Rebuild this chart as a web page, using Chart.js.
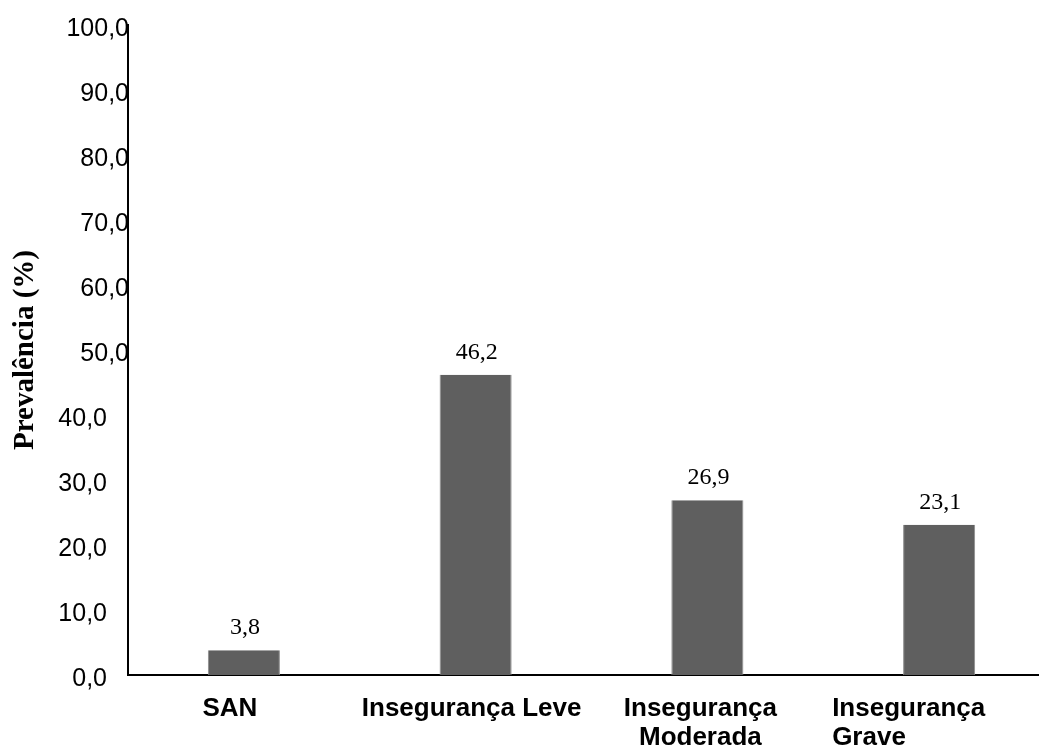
<!DOCTYPE html>
<html lang="pt">
<head>
<meta charset="utf-8">
<title>Prevalência de Insegurança Alimentar</title>
<script src="https://cdn.jsdelivr.net/npm/chart.js@4.4.1/dist/chart.umd.min.js"></script>
<style>
  html, body { margin: 0; padding: 0; background: #ffffff; overflow: hidden; }
  #wrap { width: 1039px; height: 748px; overflow: hidden; position: relative; }
  canvas { display: block; }
</style>
</head>
<body>
<div id="wrap"><canvas id="chart" width="1056" height="748"></canvas></div>
<script>
// Categories (one array per category: one entry per text line)
const categories = [
  ['SAN'],
  ['Insegurança Leve'],
  ['Insegurança', 'Moderada'],
  ['Insegurança', 'Grave']
];
// Prevalence (%) per category
const prevalence = [3.8, 46.2, 26.9, 23.1];
// Y axis range and step
const yMin = 0;
const yMax = 100;
const yStep = 10;

const fmt = v => Number(v).toFixed(1).replace('.', ',');

// Value labels above each bar
const valueLabels = {
  id: 'valueLabels',
  afterDatasetsDraw(chart) {
    const ctx = chart.ctx;
    const meta = chart.getDatasetMeta(0);
    ctx.save();
    ctx.font = '24px "Liberation Serif", "Times New Roman", serif';
    ctx.fillStyle = '#000000';
    ctx.textAlign = 'center';
    ctx.textBaseline = 'alphabetic';
    meta.data.forEach((bar, i) => {
      ctx.fillText(fmt(chart.data.datasets[0].data[i]), bar.x + 1, bar.y - 16);
    });
    ctx.restore();
  }
};

// Y tick labels: upper half flush with the axis, lower half set in from it
const yTickLabels = {
  id: 'yTickLabels',
  afterDraw(chart, args, opts) {
    const ctx = chart.ctx;
    const y = chart.scales.y;
    ctx.save();
    ctx.font = '25px "Liberation Sans", Arial, sans-serif';
    ctx.fillStyle = '#000000';
    ctx.textAlign = 'right';
    ctx.textBaseline = 'middle';
    y.ticks.forEach(t => {
      const inset = t.value < opts.flushFrom ? opts.lowInset : 0;
      ctx.fillText(fmt(t.value), y.right + 1 - inset, y.getPixelForValue(t.value) + opts.dy);
    });
    ctx.restore();
  }
};

// Category labels under the x axis, with per-category alignment
const categoryLabels = {
  id: 'categoryLabels',
  afterDraw(chart, args, opts) {
    const ctx = chart.ctx;
    const xScale = chart.scales.x;
    const base = chart.chartArea.bottom;
    ctx.save();
    ctx.font = 'bold 26px "Liberation Sans", Arial, sans-serif';
    ctx.fillStyle = '#000000';
    ctx.textBaseline = 'alphabetic';
    chart.data.labels.forEach((lines, i) => {
      const lay = opts.layout[i];
      const x = xScale.getPixelForValue(i) + lay.dx;
      ctx.textAlign = lay.align;
      lines.forEach((line, j) => {
        ctx.fillText(line, x, base + opts.firstBaseline + j * opts.lineGap);
      });
    });
    ctx.restore();
  }
};

new Chart(document.getElementById('chart'), {
  type: 'bar',
  data: {
    labels: categories,
    datasets: [{
      data: prevalence,
      backgroundColor: '#5f5f5f',
      borderColor: '#8c8c8c',
      borderWidth: { left: 1, right: 1, top: 0, bottom: 0 },
      categoryPercentage: 1.0,
      barPercentage: 0.311
    }]
  },
  plugins: [valueLabels, yTickLabels, categoryLabels],
  options: {
    responsive: false,
    animation: false,
    devicePixelRatio: 1,
    layout: { padding: { top: 25, right: 1, bottom: 0, left: 0 } },
    plugins: {
      legend: { display: false },
      tooltip: { enabled: false },
      yTickLabels: { flushFrom: 50, lowInset: 22, dy: 4 },
      categoryLabels: {
        firstBaseline: 41,
        lineGap: 29,
        layout: [
          { align: 'center', dx: -14 },
          { align: 'center', dx: -4 },
          { align: 'center', dx: -7 },
          { align: 'left', dx: -107 }
        ]
      }
    },
    scales: {
      x: {
        grid: { display: false, drawTicks: false },
        border: { display: true, color: '#000000', width: 2 },
        ticks: { display: false },
        afterFit(scale) { scale.height = 73; }
      },
      y: {
        min: yMin,
        max: yMax,
        grid: { display: false, drawTicks: false },
        border: { display: true, color: '#000000', width: 2 },
        ticks: { stepSize: yStep, display: false },
        title: {
          display: true,
          text: 'Prevalência (%)',
          color: '#000000',
          font: { family: '"Liberation Serif", "Times New Roman", serif', size: 29, weight: 'bold' },
          padding: { top: 8, bottom: 0 }
        },
        afterFit(scale) { scale.width = 128; }
      }
    }
  }
});
</script>
</body>
</html>
